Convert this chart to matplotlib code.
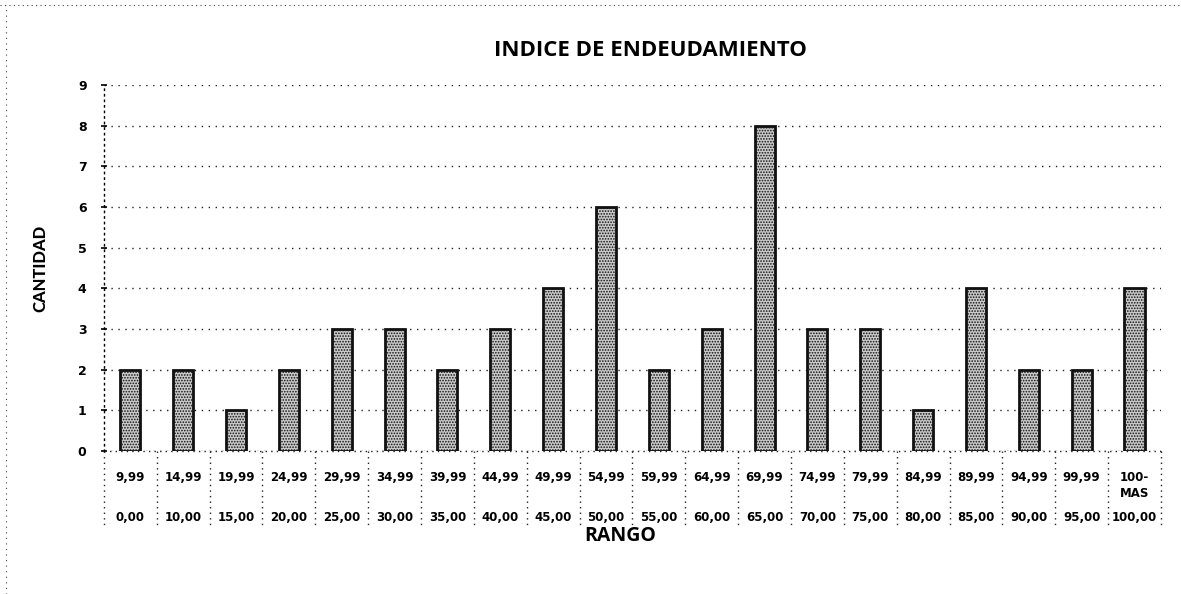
import matplotlib
matplotlib.use("Agg")
import matplotlib.pyplot as plt
from matplotlib.transforms import blended_transform_factory

plt.rcParams['font.family'] = ['Lato', 'DejaVu Sans']
plt.rcParams['hatch.linewidth'] = 0.8

upper_labels = ["9,99", "14,99", "19,99", "24,99", "29,99", "34,99", "39,99", "44,99",
                "49,99", "54,99", "59,99", "64,99", "69,99", "74,99", "79,99", "84,99",
                "89,99", "94,99", "99,99", "100-\nMAS"]
lower_labels = ["0,00", "10,00", "15,00", "20,00", "25,00", "30,00", "35,00", "40,00",
                "45,00", "50,00", "55,00", "60,00", "65,00", "70,00", "75,00", "80,00",
                "85,00", "90,00", "95,00", "100,00"]
values = [2, 2, 1, 2, 3, 3, 2, 3, 4, 6, 2, 3, 8, 3, 3, 1, 4, 2, 2, 4]
y_ticks = list(range(0, 10))

fig = plt.figure(figsize=(11.81, 5.94), dpi=100)
ax = fig.add_axes([0.088, 0.2407, 0.895, 0.6162])

x = list(range(len(values)))
ax.bar(x, values, width=0.38, facecolor='#cacaca', edgecolor='#111111',
       linewidth=2.0, hatch='......', zorder=3)

ax.set_xlim(-0.5, len(values) - 0.5)
ax.set_ylim(0, 9)
ax.set_yticks(y_ticks)
ax.set_yticklabels([str(t) for t in y_ticks], fontsize=9, fontweight='bold',
                   family=['DejaVu Sans'])
ax.tick_params(axis='y', length=5, direction='inout', width=1.2, pad=10)
ax.set_xticks([])
ax.yaxis.grid(True, linestyle=(0, (1, 4)), color='#222222', linewidth=1, zorder=0)

for s in ['top', 'right', 'bottom']:
    ax.spines[s].set_visible(False)
ax.spines['left'].set_linestyle((0, (1, 3)))
ax.spines['left'].set_linewidth(1)

# category labels (two-level)
tr = blended_transform_factory(ax.transData, ax.transAxes)
for i, (u, l) in enumerate(zip(upper_labels, lower_labels)):
    ax.text(i, -0.055, u, transform=tr, ha='center', va='top', fontsize=8.5,
            fontweight='bold', linespacing=1.3, family=['DejaVu Sans'])
    ax.text(i, -0.163, l, transform=tr, ha='center', va='top', fontsize=8.5,
            fontweight='bold', family=['DejaVu Sans'])
for i in range(len(values) + 1):
    ax.plot([i - 0.5, i - 0.5], [0, -0.21], transform=tr, clip_on=False,
            color='#222222', linestyle=(0, (1, 3)), linewidth=1)
ax.plot([-0.5, len(values) - 0.5], [0, 0], transform=tr, clip_on=False,
        color='#222222', linestyle=(0, (1, 3)), linewidth=1, zorder=4)

ax.text(0.488, -0.206, "RANGO", transform=ax.transAxes, ha='center', va='top',
        fontsize=14, fontweight='bold', family=['Open Sans', 'DejaVu Sans'])
fig.text(0.034, 0.548, "CANTIDAD", rotation=90, ha='center', va='center',
         fontsize=12, fontweight='black')
fig.text(0.551, 0.915, "INDICE DE ENDEUDAMIENTO", ha='center', va='center',
         fontsize=16, fontweight='bold', family=['Open Sans', 'DejaVu Sans'])

# scan border lines
fig.add_artist(plt.Line2D([0, 1], [0.992, 0.992], transform=fig.transFigure,
                          color='#444444', linestyle=(0, (1, 3)), linewidth=0.8))
fig.add_artist(plt.Line2D([0.005, 0.005], [0.0, 0.992], transform=fig.transFigure,
                          color='#444444', linestyle=(0, (1, 4)), linewidth=0.8))

fig.savefig("out.png", dpi=100)
